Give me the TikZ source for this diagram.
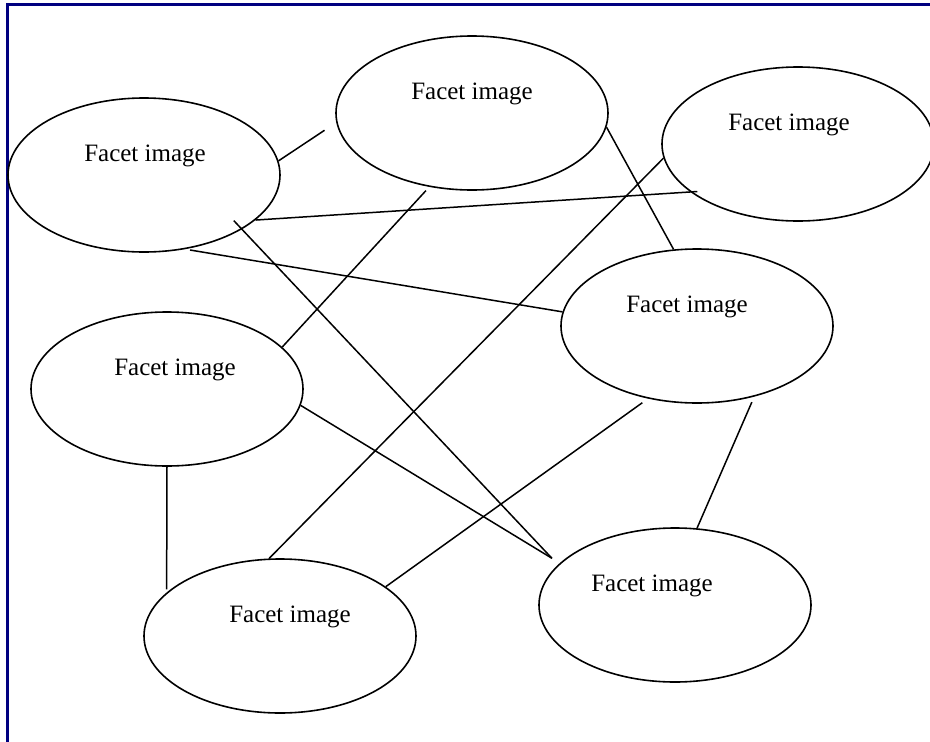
\documentclass[tikz,border=0pt]{standalone}
\usepackage{fontspec}
\setmainfont{Liberation Serif}
\usepackage{tikz}
\usetikzlibrary{shapes.geometric, calc}
\definecolor{frameB}{RGB}{0,0,128}

\begin{document}
\begin{tikzpicture}[x=1pt, y=-1pt,
  facet/.style={ellipse, draw, line width=1.6pt, minimum width=272pt, minimum height=154pt, inner sep=0pt},
  ftext/.style={anchor=base, inner sep=0pt, font=\fontsize{25}{29}\selectfont},
  link/.style={line width=1.5pt}]
\useasboundingbox (0,0) rectangle (930,742);
% frame: only the left and top edges show
\draw[frameB, line width=2.2pt] (7.5,742) -- (7.5,4.5) -- (930,4.5);
% the seven facet ellipses
\node[facet] (e1) at (144,175) {};
\node[facet] (e2) at (472,113) {};
\node[facet] (e3) at (798,144) {};
\node[facet] (e4) at (697,326) {};
\node[facet] (e5) at (167,389) {};
\node[facet] (e6) at (280,636) {};
\node[facet] (e7) at (675,605) {};
% labels sit a little above the centres
\node[ftext] (t1) at ($(e1.center)+(1,-14)$) {Facet image};
\node[ftext] (t2) at ($(e2.center)+(0,-14)$) {Facet image};
\node[ftext] (t3) at ($(e3.center)+(-9,-14)$) {Facet image};
\node[ftext] (t4) at ($(e4.center)+(-10,-14)$) {Facet image};
\node[ftext] (t5) at ($(e5.center)+(8,-14)$) {Facet image};
\node[ftext] (t6) at ($(e6.center)+(10,-14)$) {Facet image};
\node[ftext] (t7) at ($(e7.center)+(-23,-14)$) {Facet image};
% connections (some stop short of the rim, some run inside it)
\draw[link, shorten >=14pt] (e1.6) -- (e2.184);
\draw[link, shorten >=-7pt] (e1.338) -- (e3.204);
\draw[link, shorten <=5pt] (e1.299) -- (e4.174);
\draw[link, shorten <=-12pt, shorten >=9pt] (e1.331) -- (e7.161);
\draw[link, shorten <=5pt] (e2.240) -- (e5.20);
\draw[link] (e2.354) -- (e4.107);
\draw[link] (e3.186) -- (e6.98);
\draw[link, shorten >=9pt] (e5.353) -- (e7.160);
\draw[link, shorten >=3pt] (e5.south) -- (e6.159);
\draw[link, shorten <=7pt] (e4.236) -- (e6.25);
\draw[link, shorten <=6pt] (e4.309) -- (e7.74);
\end{tikzpicture}
\end{document}
